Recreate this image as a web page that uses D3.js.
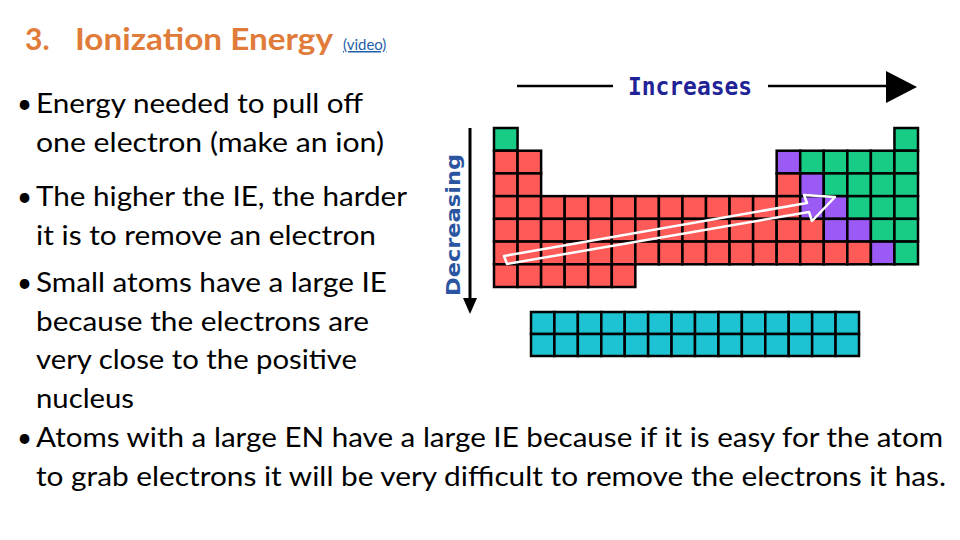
<!DOCTYPE html>
<html><head><meta charset="utf-8">
<script src="https://cdn.jsdelivr.net/npm/d3@7"></script>
<style>body{margin:0;background:#fff}</style>
</head><body>
<svg id="slide" width="960" height="540"></svg>
<script>
// periodic table blocks, one string per period: r=metal, p=metalloid, g=nonmetal, .=empty
var periods = [
    "g................g",
    "rr..........pggggg",
    "rr..........rpgggg",
    "rrrrrrrrrrrrrppggg",
    "rrrrrrrrrrrrrrppgg",
    "rrrrrrrrrrrrrrrrpg",
    "rrrrrr............"
];
var fBlockRows = 2, fBlockCols = 14;
var colours = {r: "#fe5a57", p: "#9b59f5", g: "#19cc86", f: "#1ec3d3"};

var bullets = [
    {lines: ["Energy needed to pull off", "one electron (make an ion)"], y: 113, w: [327, 348]},
    {lines: ["The higher the IE, the harder", "it is to remove an electron"], y: 206, w: [371, 340]},
    {lines: ["Small atoms have a large IE", "because the electrons are", "very close to the positive", "nucleus"], y: 292, w: [351, 333, 321, 98]},
    {lines: ["Atoms with a large EN have a large IE because if it is easy for the atom",
             "to grab electrons it will be very difficult to remove the electrons it has."], y: 447, w: [907, 910]}
];
var lineGap = 38.5;

var svg = d3.select('#slide');

// title
svg.append('text').attr('x', 25).attr('y', 50)
    .style('font', 'bold 30px Lato').style('fill', '#e07b39')
    .text('3.');
svg.append('text').attr('x', 75).attr('y', 50)
    .style('font', 'bold 30px Lato').style('fill', '#e07b39')
    .attr('textLength', 258).attr('lengthAdjust', 'spacingAndGlyphs')
    .text('Ionization Energy');
svg.append('text').attr('x', 343).attr('y', 50)
    .style('font', '15px Lato').style('fill', '#1f5fa8')
    .style('text-decoration', 'underline')
    .text('(video)');

// bullets
bullets.forEach(function(b) {
    svg.append('text').attr('x', 17).attr('y', b.y)
        .style('font', '26px Lato').text('•');
    b.lines.forEach(function(l, i) {
        svg.append('text').attr('x', 36).attr('y', b.y + i * lineGap)
            .style('font', '26px Lato').style('fill', '#000')
            .attr('textLength', b.w[i]).attr('lengthAdjust', 'spacingAndGlyphs')
            .text(l);
    });
});

// table
var cols = d3.range(18), rows = d3.range(7);
var x = d3.scaleBand().domain(cols).range([494, 918]).padding(0);
var y = d3.scaleBand().domain(rows).range([128, 287]).padding(0);

var cells = [];
periods.forEach(function(p, r) {
    p.split('').forEach(function(c, k) {
        if (c !== '.') cells.push({r: r, c: k, t: c});
    });
});

var g = svg.append('g');
g.selectAll('rect.cell').data(cells).enter().append('rect')
    .attr('class', 'cell')
    .attr('x', function(d) { return x(d.c); })
    .attr('y', function(d) { return y(d.r); })
    .attr('width', x.bandwidth()).attr('height', y.bandwidth())
    .attr('fill', function(d) { return colours[d.t]; })
    .attr('stroke', '#000').attr('stroke-width', 2.5);

var fx = d3.scaleBand().domain(d3.range(fBlockCols)).range([531, 859]);
var fy = d3.scaleBand().domain(d3.range(fBlockRows)).range([312, 356]);
var fCells = [];
d3.range(fBlockRows).forEach(function(r) {
    d3.range(fBlockCols).forEach(function(c) { fCells.push({r: r, c: c}); });
});
g.selectAll('rect.f').data(fCells).enter().append('rect')
    .attr('class', 'f')
    .attr('x', function(d) { return fx(d.c); })
    .attr('y', function(d) { return fy(d.r); })
    .attr('width', fx.bandwidth()).attr('height', fy.bandwidth())
    .attr('fill', colours.f)
    .attr('stroke', '#000').attr('stroke-width', 2.5);

// diagonal hollow arrow
svg.append('path')
    .attr('d', 'M504,256 L807,203 L804,195 L835,197 L812,221 L809,212 L507,264 Z')
    .attr('fill', 'none').attr('stroke', '#fff').attr('stroke-width', 2.5)
    .attr('stroke-linejoin', 'round');

// Increases header
svg.append('line').attr('x1', 517).attr('x2', 613).attr('y1', 86).attr('y2', 86)
    .attr('stroke', '#000').attr('stroke-width', 2.5);
svg.append('line').attr('x1', 768).attr('x2', 888).attr('y1', 86).attr('y2', 86)
    .attr('stroke', '#000').attr('stroke-width', 2.5);
svg.append('path').attr('d', 'M886,71 L917,87 L886,103 Z').attr('fill', '#000');
svg.append('text').attr('x', 690).attr('y', 95).attr('text-anchor', 'middle')
    .style('font', 'bold 24px "DejaVu Sans Mono"').style('fill', '#1f2396')
    .attr('textLength', 124).attr('lengthAdjust', 'spacingAndGlyphs')
    .text('Increases');

// Decreasing side arrow
svg.append('line').attr('x1', 470).attr('x2', 470).attr('y1', 128).attr('y2', 300)
    .attr('stroke', '#000').attr('stroke-width', 3);
svg.append('path').attr('d', 'M463,298 L477,298 L470,314 Z').attr('fill', '#000');
svg.append('text').attr('transform', 'translate(460,225) rotate(-90)')
    .attr('text-anchor', 'middle')
    .style('font', 'bold 20px "DejaVu Sans"').style('fill', '#2b55a0')
    .attr('textLength', 142).attr('lengthAdjust', 'spacingAndGlyphs')
    .text('Decreasing');
</script>
</body></html>
